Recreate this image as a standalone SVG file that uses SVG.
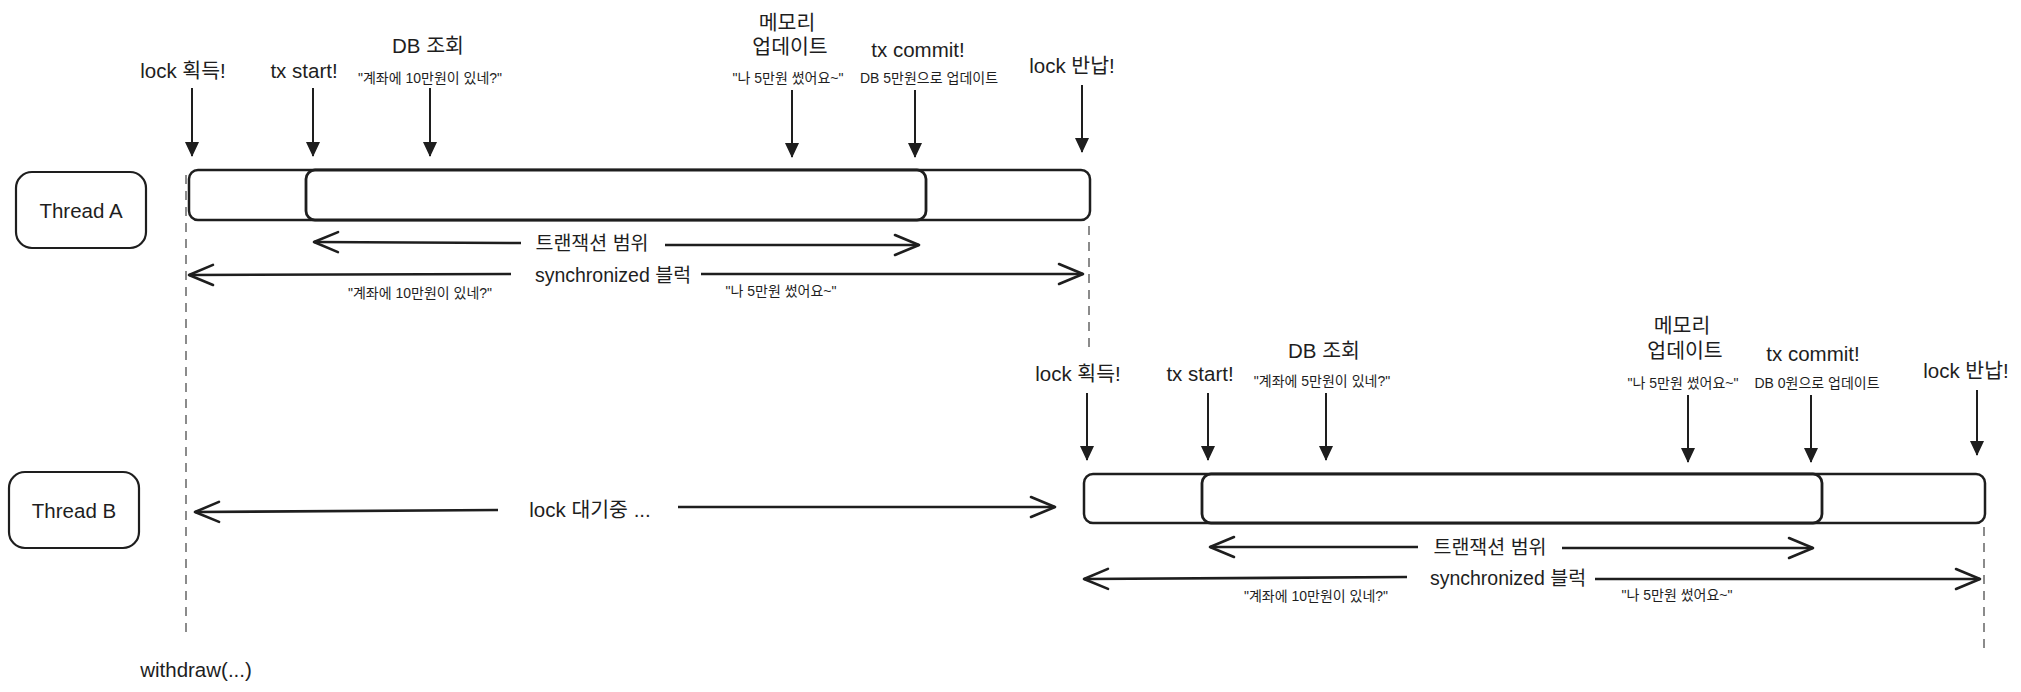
<svg xmlns="http://www.w3.org/2000/svg" width="2021" height="692" viewBox="0 0 2021 692">
<style>
text{font-family:"Liberation Sans","Noto Sans CJK KR",sans-serif;fill:#1e1e1e;text-anchor:middle;dominant-baseline:central}
.lg{font-size:20.5px}
.md{font-size:19.5px}
.sm{font-size:14px}
.box{fill:#fff;stroke:#1e1e1e;stroke-width:2.2}
.bar{fill:#fff;stroke:#1e1e1e;stroke-width:2.5}
.inner{fill:#fff;stroke:#1e1e1e;stroke-width:2.8}
.dn{stroke:#1e1e1e;stroke-width:2;fill:none;marker-end:url(#tri)}
.hz{stroke:#1e1e1e;stroke-width:2.6;fill:none;marker-end:url(#chev)}
.dash{stroke:#666;stroke-width:1.5;stroke-dasharray:9 7;fill:none}
</style>
<defs>
<marker id="tri" viewBox="0 0 15 14" refX="14" refY="7" markerWidth="15" markerHeight="14" markerUnits="userSpaceOnUse" orient="auto">
<path d="M0,0 L15,7 L0,14 Z" fill="#1e1e1e"/>
</marker>
<marker id="chev" viewBox="-26 -12 28 24" refX="0" refY="0" markerWidth="28" markerHeight="24" markerUnits="userSpaceOnUse" orient="auto">
<path d="M-24,-10 L0,0 L-24,10" fill="none" stroke="#1e1e1e" stroke-width="2.6" stroke-linecap="round" stroke-linejoin="round"/>
</marker>
</defs>

<g id="lifelines">
<line class="dash" x1="186" y1="175" x2="186" y2="633"/>
<line class="dash" x1="1089" y1="226" x2="1089" y2="350"/>
<line class="dash" x1="1984" y1="527" x2="1984" y2="655"/>
</g>

<g id="thread-a">
<rect class="box" x="16" y="172" width="130" height="76" rx="16"/>
<text class="lg" x="81" y="210">Thread A</text>
</g>
<g id="thread-a-sync-bar">
<rect class="bar" x="189" y="170" width="901" height="50" rx="9"/>
</g>
<g id="thread-a-tx-bar">
<rect class="inner" x="306" y="170" width="620" height="50" rx="9"/>
</g>

<g id="thread-b">
<rect class="box" x="9" y="472" width="130" height="76" rx="16"/>
<text class="lg" x="74" y="510">Thread B</text>
</g>
<g id="thread-b-sync-bar">
<rect class="bar" x="1084" y="474" width="901" height="49" rx="9"/>
</g>
<g id="thread-b-tx-bar">
<rect class="inner" x="1202" y="474" width="620" height="49" rx="9"/>
</g>

<g id="labels-a">
<text class="lg" x="183" y="70">lock 획득!</text>
<text class="lg" x="304" y="70">tx start!</text>
<text class="lg" x="428" y="45">DB 조회</text>
<text class="sm" x="430" y="78">"계좌에 10만원이 있네?"</text>
<text class="lg" x="787" y="22">메모리</text>
<text class="lg" x="790" y="46">업데이트</text>
<text class="sm" x="788" y="78">"나 5만원 썼어요~"</text>
<text class="lg" x="918" y="49">tx commit!</text>
<text class="sm" x="929" y="78">DB 5만원으로 업데이트</text>
<text class="lg" x="1072" y="65">lock 반납!</text>
<text class="md" x="592" y="243">트랜잭션 범위</text>
<text class="md" x="613" y="275">synchronized 블럭</text>
<text class="sm" x="420" y="293">"계좌에 10만원이 있네?"</text>
<text class="sm" x="781" y="291">"나 5만원 썼어요~"</text>
</g>

<g id="labels-b">
<text class="lg" x="1078" y="373">lock 획득!</text>
<text class="lg" x="1200" y="373">tx start!</text>
<text class="lg" x="1324" y="350">DB 조회</text>
<text class="sm" x="1322" y="381">"계좌에 5만원이 있네?"</text>
<text class="lg" x="1682" y="325">메모리</text>
<text class="lg" x="1685" y="350">업데이트</text>
<text class="sm" x="1683" y="383">"나 5만원 썼어요~"</text>
<text class="lg" x="1813" y="353">tx commit!</text>
<text class="sm" x="1817" y="383">DB 0원으로 업데이트</text>
<text class="lg" x="1966" y="370">lock 반납!</text>
<text class="md" x="1490" y="547">트랜잭션 범위</text>
<text class="md" x="1508" y="578">synchronized 블럭</text>
<text class="sm" x="1316" y="596">"계좌에 10만원이 있네?"</text>
<text class="sm" x="1677" y="595">"나 5만원 썼어요~"</text>
<text class="lg" x="590" y="509">lock 대기중 ...</text>
<text class="lg" x="196" y="669">withdraw(...)</text>
</g>

<g id="connectors">
<line class="dn" x1="192" y1="88" x2="192" y2="156"/>
<line class="dn" x1="313" y1="88" x2="313" y2="156"/>
<line class="dn" x1="430" y1="88" x2="430" y2="156"/>
<line class="dn" x1="792" y1="90" x2="792" y2="157"/>
<line class="dn" x1="915" y1="90" x2="915" y2="157"/>
<line class="dn" x1="1082" y1="85" x2="1082" y2="152"/>

<line class="dn" x1="1087" y1="393" x2="1087" y2="460"/>
<line class="dn" x1="1208" y1="393" x2="1208" y2="460"/>
<line class="dn" x1="1326" y1="393" x2="1326" y2="460"/>
<line class="dn" x1="1688" y1="395" x2="1688" y2="462"/>
<line class="dn" x1="1811" y1="395" x2="1811" y2="462"/>
<line class="dn" x1="1977" y1="390" x2="1977" y2="455"/>

<line class="hz" x1="521" y1="243" x2="314" y2="242"/>
<line class="hz" x1="665" y1="245" x2="919" y2="245"/>
<line class="hz" x1="511" y1="274" x2="189" y2="275"/>
<line class="hz" x1="701" y1="274" x2="1083" y2="274"/>

<line class="hz" x1="498" y1="510" x2="195" y2="512"/>
<line class="hz" x1="678" y1="507" x2="1055" y2="507"/>

<line class="hz" x1="1418" y1="547" x2="1210" y2="547"/>
<line class="hz" x1="1562" y1="548" x2="1813" y2="548"/>
<line class="hz" x1="1407" y1="577" x2="1084" y2="579"/>
<line class="hz" x1="1595" y1="579" x2="1980" y2="579"/>
</g>
</svg>
